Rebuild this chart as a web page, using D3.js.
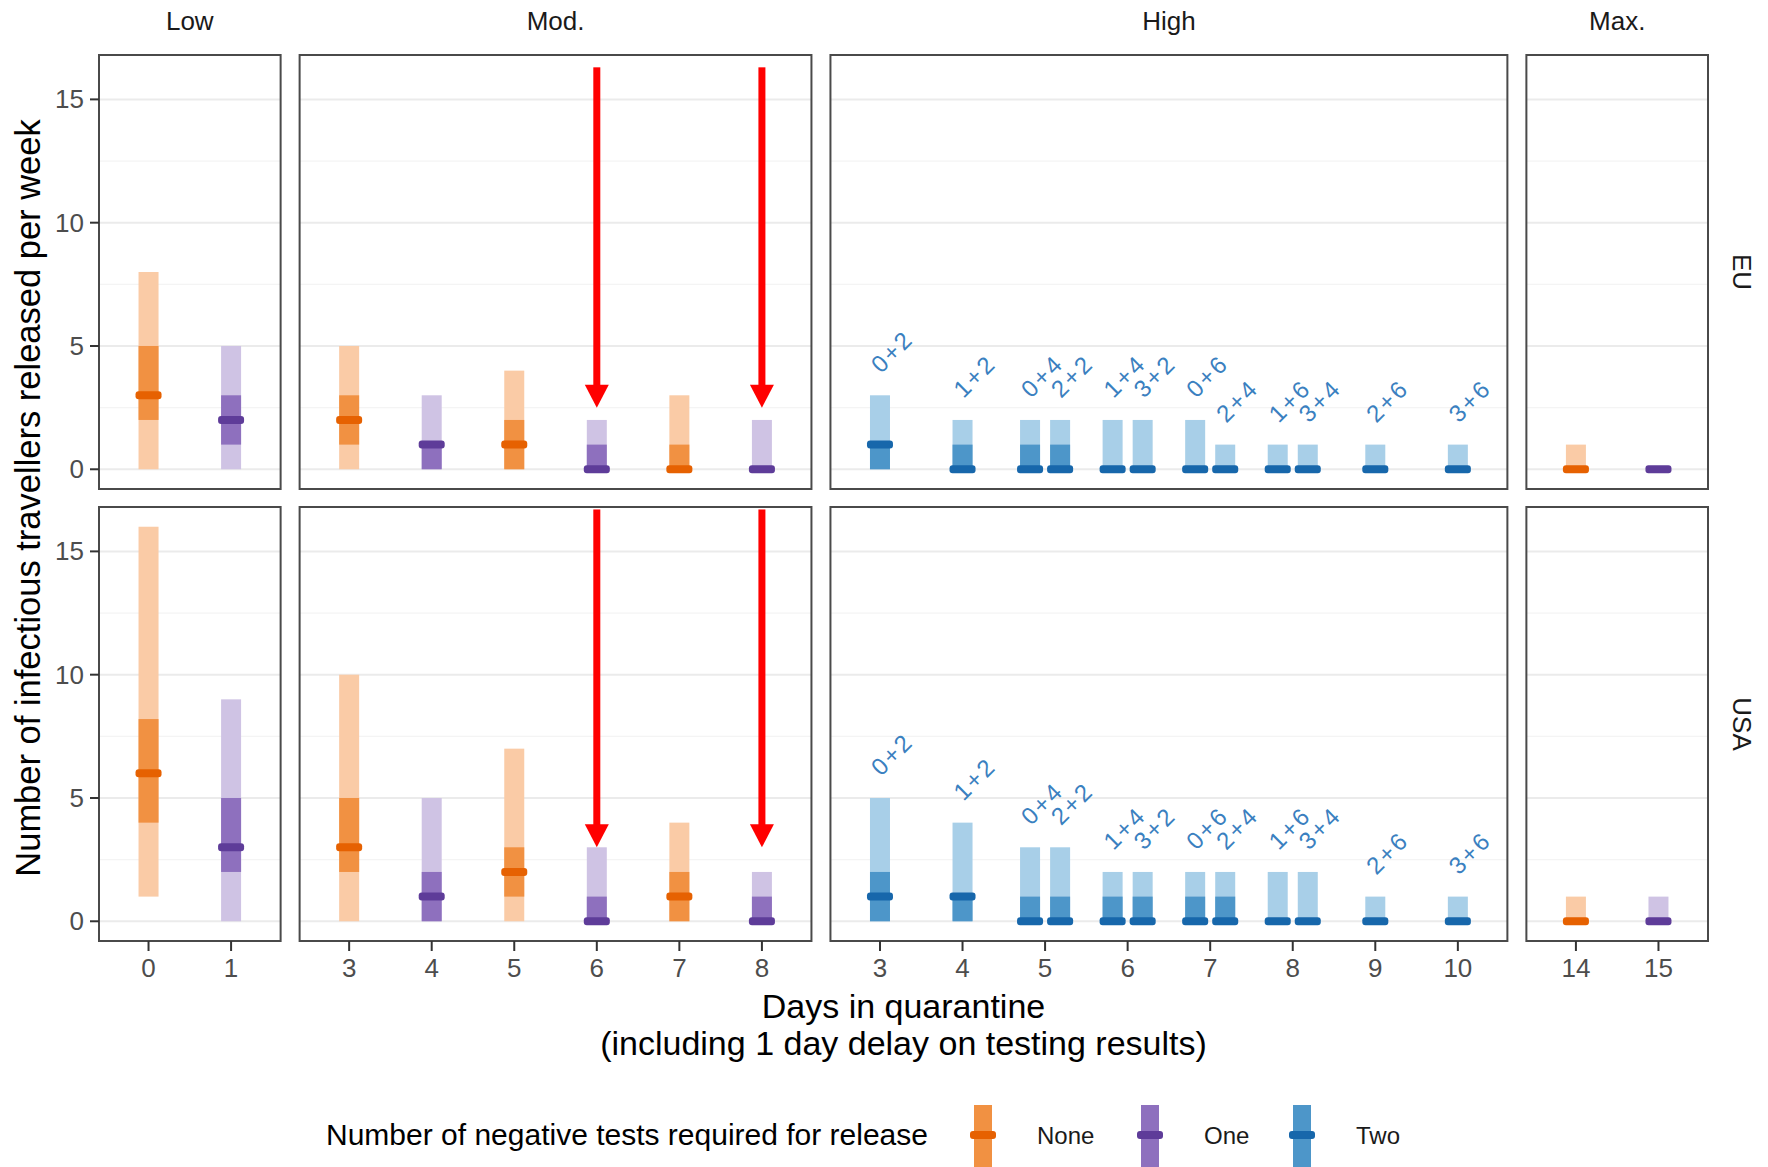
<!DOCTYPE html>
<html>
<head>
<meta charset="utf-8">
<script src="https://cdn.jsdelivr.net/npm/d3@7"></script>
<style>
  body { margin: 0; background: #fff; }
  svg { display: block; font-family: "Liberation Sans", Arial, sans-serif; }
</style>
</head>
<body>
<div id="chart"></div>
<script>
var regions = ['EU', 'USA'];
var panelNames = ['Low', 'Mod.', 'High', 'Max.'];
var panelDays = [[0, 1], [3, 4, 5, 6, 7, 8], [3, 4, 5, 6, 7, 8, 9, 10], [14, 15]];
var testNames = ['None', 'One', 'Two'];
var yTicks = [0, 5, 10, 15];
var yMinor = [2.5, 7.5, 12.5];

// one entry per strategy
var stratPanel = ['Low', 'Low', 'Mod.', 'Mod.', 'Mod.', 'Mod.', 'Mod.', 'Mod.',
    'High', 'High', 'High', 'High', 'High', 'High', 'High', 'High', 'High', 'High', 'High', 'High',
    'Max.', 'Max.'];
var stratDay = [0, 1, 3, 4, 5, 6, 7, 8, 3, 4, 5, 5, 6, 6, 7, 7, 8, 8, 9, 10, 14, 15];
var stratTests = ['None', 'One', 'None', 'One', 'None', 'One', 'None', 'One',
    'Two', 'Two', 'Two', 'Two', 'Two', 'Two', 'Two', 'Two', 'Two', 'Two', 'Two', 'Two',
    'None', 'One'];
var stratLabel = ['', '', '', '', '', '', '', '',
    '0+2', '1+2', '0+4', '2+2', '1+4', '3+2', '0+6', '2+4', '1+6', '3+4', '2+6', '3+6',
    '', ''];

// [lower 95%, lower 50%, median, upper 50%, upper 95%]
var euValues = [
    [0, 2, 3, 5, 8], [0, 1, 2, 3, 5],
    [0, 1, 2, 3, 5], [0, 0, 1, 1, 3], [0, 0, 1, 2, 4], [0, 0, 0, 1, 2], [0, 0, 0, 1, 3], [0, 0, 0, 0, 2],
    [0, 0, 1, 1, 3], [0, 0, 0, 1, 2], [0, 0, 0, 1, 2], [0, 0, 0, 1, 2], [0, 0, 0, 0, 2], [0, 0, 0, 0, 2],
    [0, 0, 0, 0, 2], [0, 0, 0, 0, 1], [0, 0, 0, 0, 1], [0, 0, 0, 0, 1], [0, 0, 0, 0, 1], [0, 0, 0, 0, 1],
    [0, 0, 0, 0, 1], [0, 0, 0, 0, 0]
];
var usaValues = [
    [1, 4, 6, 8.2, 16], [0, 2, 3, 5, 9],
    [0, 2, 3, 5, 10], [0, 0, 1, 2, 5], [0, 1, 2, 3, 7], [0, 0, 0, 1, 3], [0, 0, 1, 2, 4], [0, 0, 0, 1, 2],
    [0, 0, 1, 2, 5], [0, 0, 1, 1, 4], [0, 0, 0, 1, 3], [0, 0, 0, 1, 3], [0, 0, 0, 1, 2], [0, 0, 0, 1, 2],
    [0, 0, 0, 1, 2], [0, 0, 0, 1, 2], [0, 0, 0, 0, 2], [0, 0, 0, 0, 2], [0, 0, 0, 0, 1], [0, 0, 0, 0, 1],
    [0, 0, 0, 0, 1], [0, 0, 0, 0, 1]
];

// red arrows drawn over the Mod. panel
var arrowDays = [6, 8];
var arrowFrom = [16.3, 16.7];
var arrowTo = [2.5, 3.0];

var colDark = { None: '#e66101', One: '#5e3c99', Two: '#1767ab' };
var colMid = { None: '#f19142', One: '#8e70be', Two: '#4d96c9' };
var colLight = { None: '#facba6', One: '#cfc3e4', Two: '#a8cfe8' };

var W = 1768, H = 1167;
var panelLeft = 99, panelRight = 1708, panelGap = 19;
var rowTop = [55, 507], rowHeight = 434;

var svg = d3.select('#chart').append('svg')
    .attr('width', W)
    .attr('height', H);

// x scales, one per column of panels
var totalUnits = d3.sum(panelDays, function(d) { return d.length + 0.2; });
var step = (panelRight - panelLeft - panelGap * 3) / totalUnits;
var xScales = [];
var x0 = panelLeft;
panelDays.forEach(function(days) {
    var w = (days.length + 0.2) * step;
    xScales.push(d3.scalePoint().domain(days).range([x0, x0 + w]).padding(0.6));
    x0 += w + panelGap;
});

var yScales = rowTop.map(function(t) {
    return d3.scaleLinear().domain([-0.8, 16.8]).range([t + rowHeight, t]);
});

// dodge strategies that share a day
function dodge(i) {
    var same = [];
    for (var j = 0; j < stratDay.length; j++) {
        if (stratPanel[j] === stratPanel[i] && stratDay[j] === stratDay[i]) same.push(j);
    }
    var k = same.indexOf(i);
    return (k - (same.length - 1) / 2) * 0.364 * step;
}

regions.forEach(function(region, r) {
    var y = yScales[r];
    var vals = r === 0 ? euValues : usaValues;

    panelNames.forEach(function(pname, p) {
        var x = xScales[p];
        var xr = x.range();
        var g = svg.append('g');

        g.selectAll('.minor').data(yMinor).enter().append('line')
            .attr('x1', xr[0]).attr('x2', xr[1])
            .attr('y1', function(d) { return y(d); })
            .attr('y2', function(d) { return y(d); })
            .attr('stroke', '#f4f4f4').attr('stroke-width', 1.2);
        g.selectAll('.major').data(yTicks).enter().append('line')
            .attr('x1', xr[0]).attr('x2', xr[1])
            .attr('y1', function(d) { return y(d); })
            .attr('y2', function(d) { return y(d); })
            .attr('stroke', '#ebebeb').attr('stroke-width', 2);

        var idx = d3.range(stratDay.length).filter(function(i) { return stratPanel[i] === pname; });

        idx.forEach(function(i) {
            var v = vals[i];
            var cx = x(stratDay[i]) + dodge(i);
            var t = stratTests[i];
            if (v[4] > v[0]) {
                g.append('rect')
                    .attr('x', cx - 10).attr('width', 20)
                    .attr('y', y(v[4])).attr('height', y(v[0]) - y(v[4]))
                    .attr('fill', colLight[t]);
            }
            if (v[3] > v[1]) {
                g.append('rect')
                    .attr('x', cx - 10).attr('width', 20)
                    .attr('y', y(v[3])).attr('height', y(v[1]) - y(v[3]))
                    .attr('fill', colMid[t]);
            }
            g.append('rect')
                .attr('x', cx - 13).attr('width', 26)
                .attr('y', y(v[2]) - 4).attr('height', 8)
                .attr('rx', 3)
                .attr('fill', colDark[t]);
            if (stratLabel[i]) {
                var lx = cx + 1, ly = y(v[4] + 0.85);
                g.append('text')
                    .attr('transform', 'translate(' + lx + ',' + ly + ') rotate(-45)')
                    .attr('font-size', 24)
                    .attr('letter-spacing', 2.5)
                    .attr('fill', '#3a80c0')
                    .text(stratLabel[i]);
            }
        });

        g.append('rect')
            .attr('x', xr[0]).attr('y', rowTop[r])
            .attr('width', xr[1] - xr[0]).attr('height', rowHeight)
            .attr('fill', 'none').attr('stroke', '#4a4a4a').attr('stroke-width', 2);

        // top strip labels
        if (r === 0) {
            svg.append('text')
                .attr('x', (xr[0] + xr[1]) / 2).attr('y', 30)
                .attr('text-anchor', 'middle')
                .attr('font-size', 26).attr('fill', '#1a1a1a')
                .text(pname);
        }

        // x axis on bottom row
        if (r === regions.length - 1) {
            var bottom = rowTop[r] + rowHeight;
            var ax = svg.append('g');
            x.domain().forEach(function(d) {
                ax.append('line')
                    .attr('x1', x(d)).attr('x2', x(d))
                    .attr('y1', bottom).attr('y2', bottom + 10)
                    .attr('stroke', '#333').attr('stroke-width', 2);
                ax.append('text')
                    .attr('x', x(d)).attr('y', 977)
                    .attr('text-anchor', 'middle')
                    .attr('font-size', 26).attr('fill', '#4d4d4d')
                    .text(d);
            });
        }
    });

    // y axis on the left panels
    var ay = svg.append('g');
    yTicks.forEach(function(d) {
        ay.append('line')
            .attr('x1', panelLeft - 9).attr('x2', panelLeft)
            .attr('y1', y(d)).attr('y2', y(d))
            .attr('stroke', '#333').attr('stroke-width', 2);
        ay.append('text')
            .attr('x', panelLeft - 15).attr('y', y(d) + 9)
            .attr('text-anchor', 'end')
            .attr('font-size', 26).attr('fill', '#4d4d4d')
            .text(d);
    });

    // right strip label
    var cy = rowTop[r] + rowHeight / 2;
    svg.append('text')
        .attr('transform', 'translate(1733,' + cy + ') rotate(90)')
        .attr('text-anchor', 'middle')
        .attr('font-size', 26).attr('fill', '#1a1a1a')
        .text(region);

    // annotation arrows
    var xm = xScales[1];
    arrowDays.forEach(function(d) {
        var ax0 = xm(d);
        var top = y(arrowFrom[r]), tip = y(arrowTo[r]);
        svg.append('rect')
            .attr('x', ax0 - 3.5).attr('width', 7)
            .attr('y', top).attr('height', tip - 22 - top)
            .attr('fill', '#ff0000');
        svg.append('path')
            .attr('d', 'M' + (ax0 - 12) + ',' + (tip - 23) + 'L' + (ax0 + 12) + ',' + (tip - 23) + 'L' + ax0 + ',' + tip + 'Z')
            .attr('fill', '#ff0000');
    });
});

// axis titles
var midX = (panelLeft + panelRight) / 2;
svg.append('text')
    .attr('x', midX).attr('y', 1018)
    .attr('text-anchor', 'middle').attr('font-size', 34)
    .text('Days in quarantine');
svg.append('text')
    .attr('x', midX).attr('y', 1055)
    .attr('text-anchor', 'middle').attr('font-size', 34)
    .text('(including 1 day delay on testing results)');
svg.append('text')
    .attr('transform', 'translate(40,' + ((rowTop[0] + rowTop[1] + rowHeight) / 2) + ') rotate(-90)')
    .attr('text-anchor', 'middle').attr('font-size', 34.5)
    .text('Number of infectious travellers released per week');

// legend
var legY = 1135;
svg.append('text')
    .attr('x', 326).attr('y', legY + 10)
    .attr('font-size', 30)
    .text('Number of negative tests required for release');
var keyX = [983, 1150, 1302];
testNames.forEach(function(t, i) {
    svg.append('rect')
        .attr('x', keyX[i] - 9).attr('width', 18)
        .attr('y', legY - 30).attr('height', 62)
        .attr('fill', colMid[t]);
    svg.append('rect')
        .attr('x', keyX[i] - 13).attr('width', 26)
        .attr('y', legY - 4).attr('height', 8).attr('rx', 3)
        .attr('fill', colDark[t]);
    svg.append('text')
        .attr('x', keyX[i] + 54).attr('y', legY + 9)
        .attr('font-size', 24).attr('fill', '#1a1a1a')
        .text(t);
});
</script>
</body>
</html>
